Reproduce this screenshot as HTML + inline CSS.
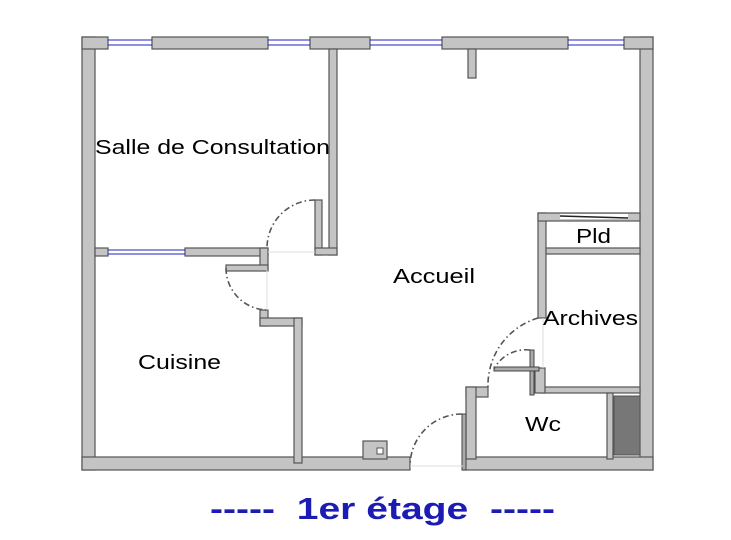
<!DOCTYPE html>
<html><head><style>body{margin:0;background:#fff}svg{display:block}</style></head><body>
<svg width="731" height="540" viewBox="0 0 731 540" xmlns="http://www.w3.org/2000/svg">
<g fill="#c4c4c4" stroke="#555" stroke-width="1.2">
<rect x="82" y="37" width="13" height="433"/>
<rect x="640" y="37" width="13" height="433"/>
<rect x="82" y="457" width="328" height="13"/>
<rect x="463" y="457" width="190" height="13"/>
<rect x="82" y="37" width="26" height="12"/>
<rect x="152" y="37" width="116" height="12"/>
<rect x="310" y="37" width="60" height="12"/>
<rect x="442" y="37" width="126" height="12"/>
<rect x="624" y="37" width="29" height="12"/>
<rect x="468" y="49" width="8" height="29"/>
<rect x="329" y="49" width="8" height="206"/>
<rect x="315" y="200" width="7" height="55"/>
<rect x="315" y="248" width="22" height="7"/>
<rect x="95" y="248" width="13" height="8"/>
<rect x="185" y="248" width="83" height="8"/>
<rect x="260" y="248" width="8" height="22"/>
<rect x="226" y="265" width="42" height="6"/>
<rect x="260" y="310" width="8" height="16"/>
<rect x="260" y="318" width="42" height="8"/>
<rect x="294" y="318" width="8" height="145"/>
<rect x="363" y="441" width="24" height="18"/>
<rect x="538" y="213" width="8" height="105"/>
<rect x="538" y="213" width="102" height="8"/>
<rect x="546" y="248" width="94" height="6"/>
<rect x="540" y="387" width="100" height="6"/>
<rect x="535" y="368" width="10" height="25"/>
<rect x="466" y="387" width="22" height="10"/>
<rect x="466" y="387" width="10" height="72"/>
<rect x="607" y="393" width="6" height="66"/>
</g>
<rect x="560" y="214" width="68" height="5" fill="#fff"/>
<line x1="560" y1="216" x2="628" y2="218" stroke="#222" stroke-width="1.5"/>
<rect x="377" y="448" width="6" height="6" fill="#fff" stroke="#555"/>
<rect x="614" y="396" width="26" height="59" fill="#777" stroke="#555"/>
<g stroke="#2020c0" stroke-width="1">
<line x1="108" y1="40" x2="152" y2="40"/><line x1="108" y1="45" x2="152" y2="45"/>
<line x1="268" y1="40" x2="310" y2="40"/><line x1="268" y1="45" x2="310" y2="45"/>
<line x1="370" y1="40" x2="442" y2="40"/><line x1="370" y1="45" x2="442" y2="45"/>
<line x1="568" y1="40" x2="624" y2="40"/><line x1="568" y1="45" x2="624" y2="45"/>
<line x1="108" y1="250" x2="185" y2="250"/><line x1="108" y1="254" x2="185" y2="254"/>
</g>
<g fill="#aaa" stroke="#444">
<rect x="462" y="414" width="4" height="56"/>
<rect x="530" y="350" width="4" height="45"/>
<rect x="494" y="367" width="45" height="4"/>
</g>
<g fill="none" stroke="#555" stroke-width="1.6" stroke-dasharray="6,3,1.5,3">
<path d="M315 200 A48 48 0 0 0 267 248"/>
<path d="M226 268 A42 42 0 0 0 268 310"/>
<path d="M462 414 A52 52 0 0 0 410 466"/>
<path d="M538 318 A70 70 0 0 0 488 387"/>
<path d="M530 350 A36 36 0 0 0 494 369"/>
</g>
<g stroke="#ddd" stroke-width="1">
<line x1="268" y1="252" x2="315" y2="252"/><line x1="267" y1="270" x2="267" y2="310"/>
<line x1="410" y1="466" x2="463" y2="466"/><line x1="543" y1="318" x2="543" y2="368"/>
</g>
<g font-family="Liberation Sans, sans-serif" fill="#000" font-size="20">
<text x="95" y="154" textLength="235" lengthAdjust="spacingAndGlyphs">Salle de Consultation</text>
<text x="393" y="283" textLength="82" lengthAdjust="spacingAndGlyphs">Accueil</text>
<text x="576" y="243" textLength="35" lengthAdjust="spacingAndGlyphs">Pld</text>
<text x="543" y="325" textLength="95" lengthAdjust="spacingAndGlyphs">Archives</text>
<text x="138" y="369" textLength="83" lengthAdjust="spacingAndGlyphs">Cuisine</text>
<text x="525" y="431" textLength="36" lengthAdjust="spacingAndGlyphs">Wc</text>
</g>
<text x="210" y="519" textLength="345" lengthAdjust="spacingAndGlyphs" font-family="Liberation Sans, sans-serif" font-weight="bold" font-size="31" fill="#1c1cb4" xml:space="preserve">-----  1er étage  -----</text>
</svg>
</body></html>
